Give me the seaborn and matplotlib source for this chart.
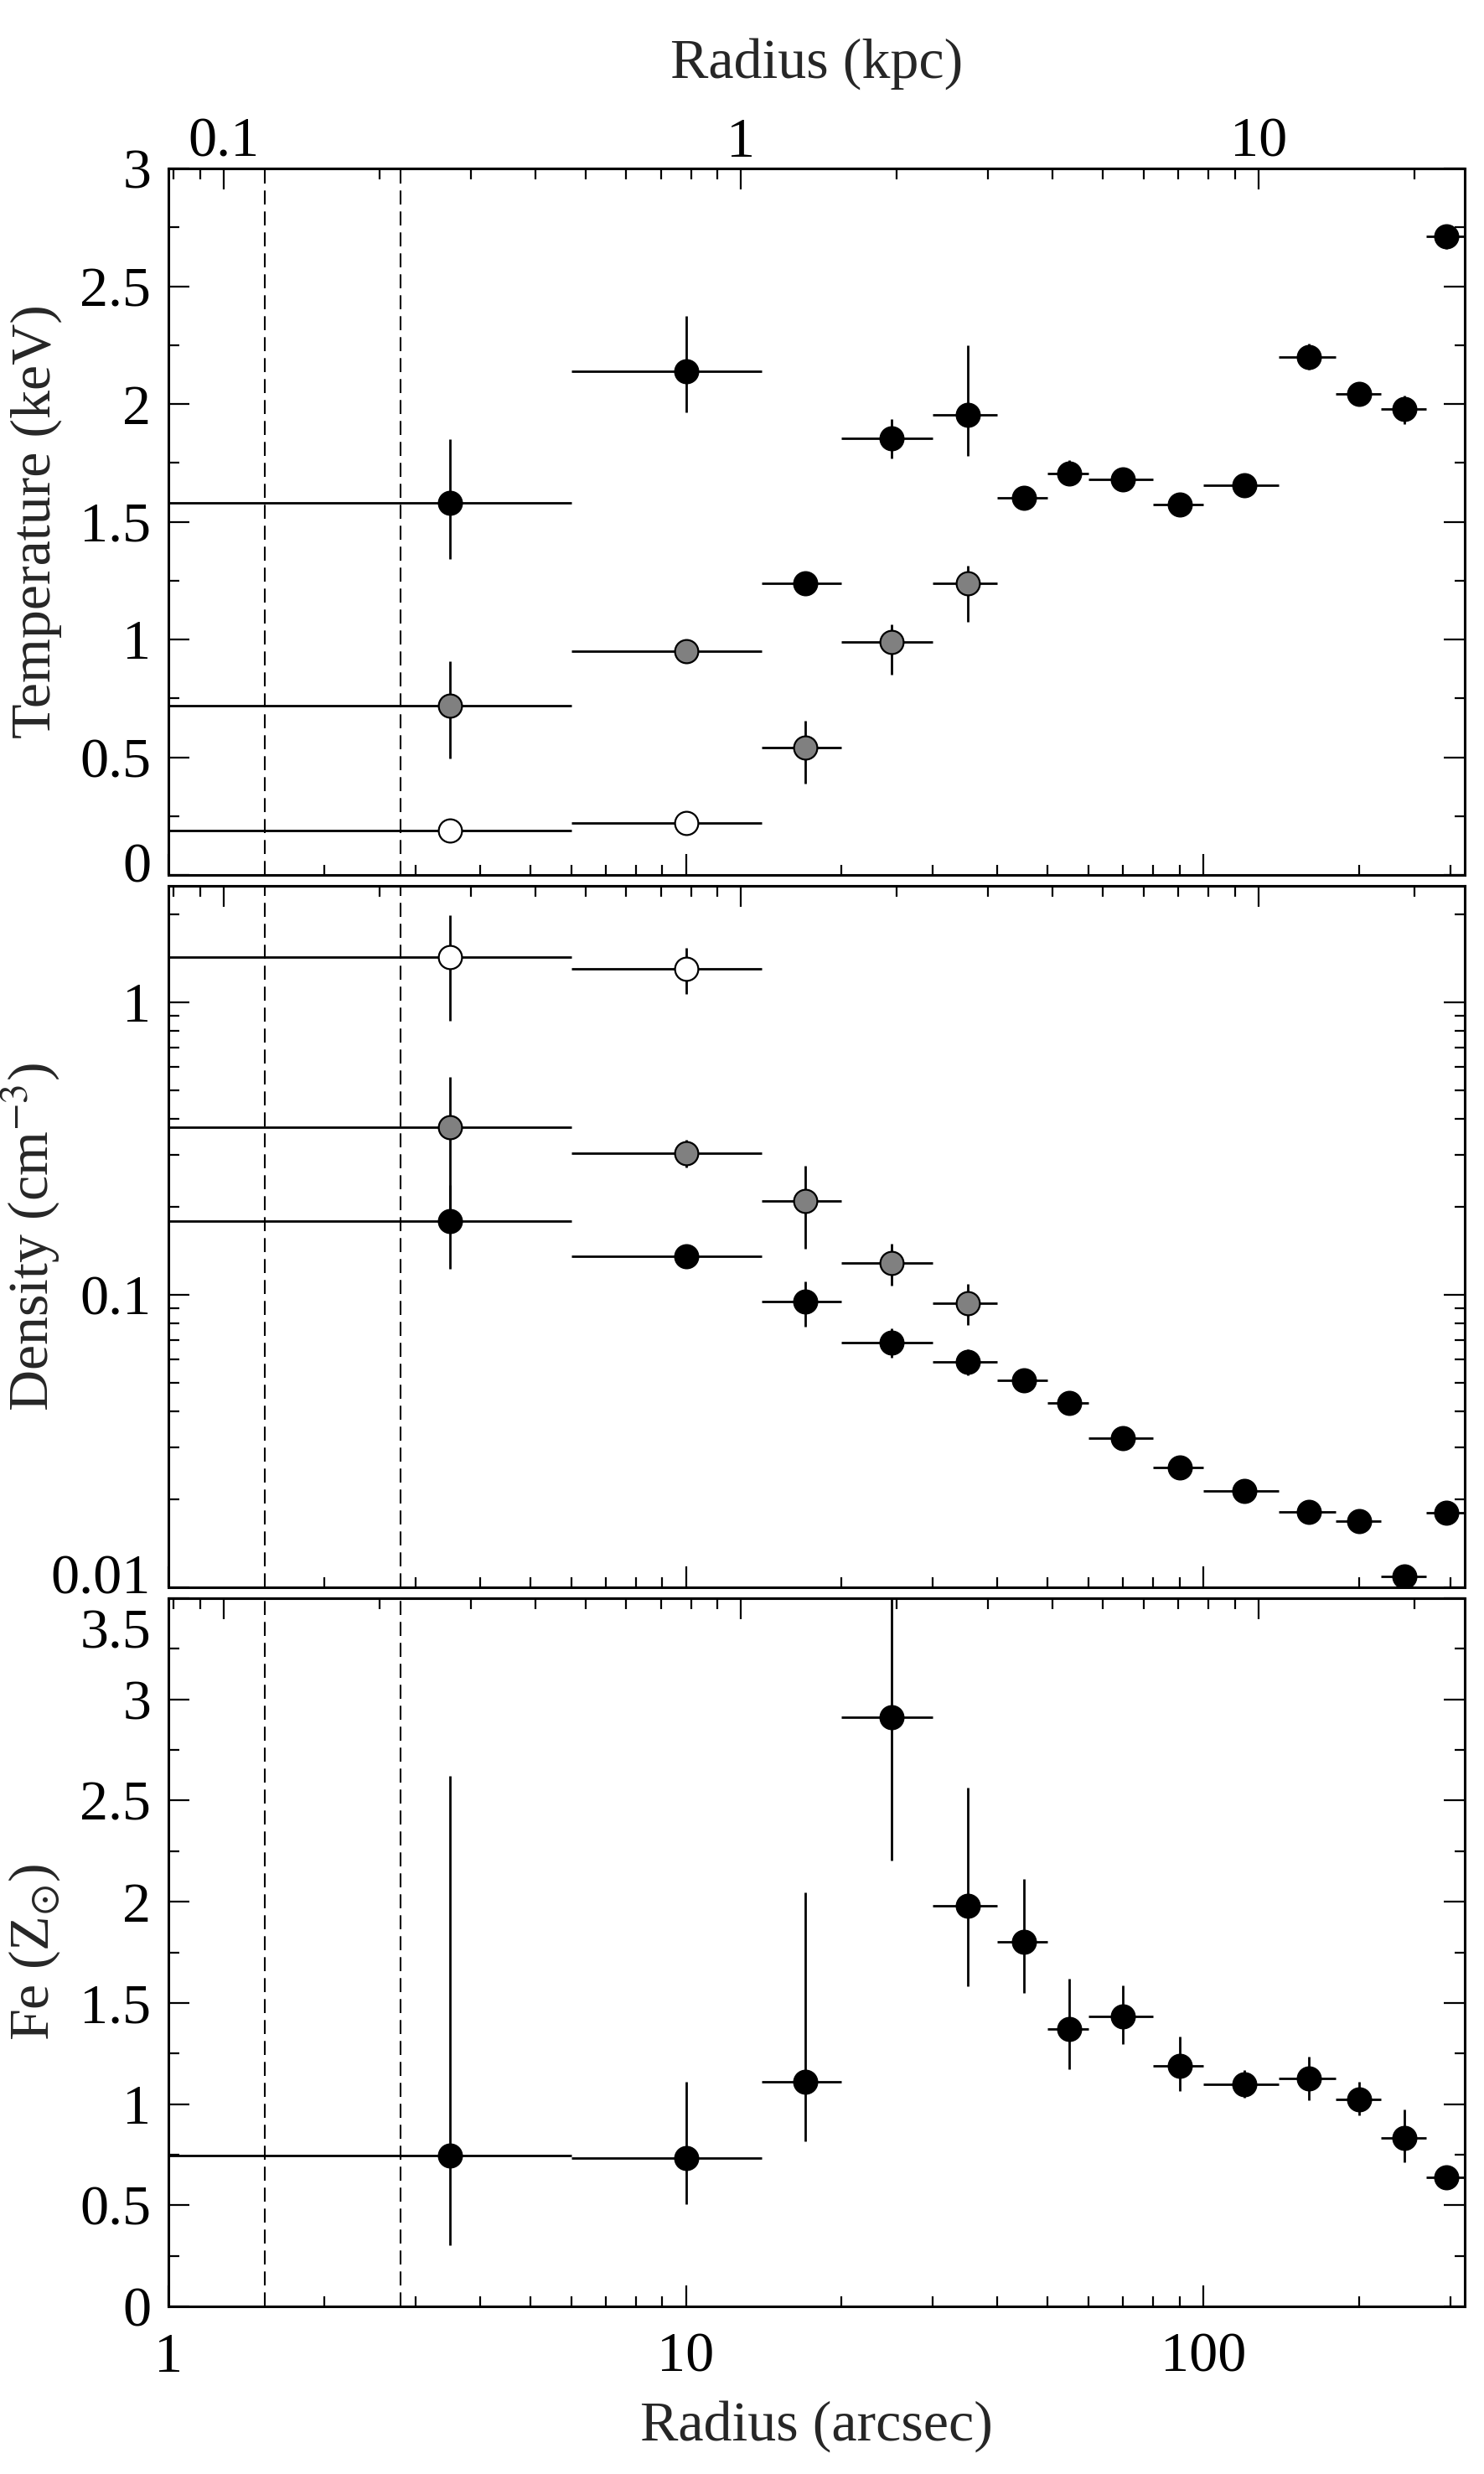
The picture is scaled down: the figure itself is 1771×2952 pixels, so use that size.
import numpy as np
import pandas as pd
import matplotlib
matplotlib.use("Agg")
import matplotlib.pyplot as plt
import matplotlib.ticker as mticker
import matplotlib.transforms as mtrans
import seaborn as sns

# ---------------- data ----------------
r_center = [3.5, 10, 17, 25, 35, 45, 55, 70, 90, 120, 160, 200, 245, 295]
r_lo = [1, 6, 14, 20, 30, 40, 50, 60, 80, 100, 140, 180, 220, 270]
r_hi = [6, 14, 20, 30, 40, 50, 60, 80, 100, 140, 180, 220, 270, 320]

# Temperature (keV), three components
kT_hot = [1.58, 2.14, 1.24, 1.855, 1.955, 1.603, 1.704, 1.68, 1.574, 1.656, 2.2, 2.043, 1.98, 2.71]
kT_hot_lo = [1.34, 1.964, 1.22, 1.77, 1.78, 1.585, 1.67, 1.665, 1.56, 1.64, 2.147, 2.025, 1.915, 2.66]
kT_hot_hi = [1.85, 2.375, 1.26, 1.935, 2.25, 1.62, 1.76, 1.695, 1.59, 1.67, 2.257, 2.06, 2.037, 2.76]

kT_mid = [0.718, 0.949, 0.540, 0.99, 1.237]
kT_mid_lo = [0.496, 0.93, 0.388, 0.852, 1.074]
kT_mid_hi = [0.907, 0.97, 0.655, 1.064, 1.314]

kT_cool = [0.19, 0.222]
kT_cool_lo = [0.18, 0.21]
kT_cool_hi = [0.20, 0.235]

# Density (cm^-3)
ne_hot = [0.179, 0.1355, 0.0946, 0.0688, 0.0591, 0.051, 0.0427, 0.0324, 0.0257, 0.0213, 0.01814, 0.0168, 0.0109, 0.018]
ne_hot_lo = [0.123, 0.131, 0.078, 0.061, 0.053, 0.049, 0.041, 0.031, 0.0247, 0.0205, 0.0175, 0.0162, 0.0105, 0.0174]
ne_hot_hi = [0.238, 0.140, 0.111, 0.077, 0.0652, 0.053, 0.0445, 0.0338, 0.0267, 0.0221, 0.0188, 0.0174, 0.0113, 0.0186]

ne_mid = [0.374, 0.305, 0.209, 0.1285, 0.0935]
ne_mid_lo = [0.19, 0.272, 0.1435, 0.1075, 0.0787]
ne_mid_hi = [0.554, 0.339, 0.276, 0.1496, 0.1087]

ne_cool = [1.43, 1.305]
ne_cool_lo = [0.863, 1.07]
ne_cool_hi = [1.99, 1.535]

# Iron abundance (solar)
fe = [0.744, 0.733, 1.111, 2.912, 1.98, 1.801, 1.372, 1.435, 1.1875, 1.097, 1.125, 1.023, 0.832, 0.639]
fe_lo = [0.304, 0.506, 0.818, 2.202, 1.582, 1.548, 1.173, 1.298, 1.0625, 1.031, 1.02, 0.946, 0.713, 0.61]
fe_hi = [2.62, 1.108, 2.045, 3.6, 2.565, 2.114, 1.619, 1.588, 1.332, 1.168, 1.233, 1.108, 0.974, 0.67]

dashed_r = [1.536, 2.81]
kpc_per_arcsec = 0.0782

# ---------------- style ----------------
sns.set_theme(style="ticks")
plt.rcParams["font.family"] = ["Liberation Serif", "DejaVu Serif"]
plt.rcParams["mathtext.fontset"] = "stix"
plt.rcParams["axes.linewidth"] = 2.2
FS = 49

fig = plt.figure(figsize=(17.71, 29.52), dpi=100)
L, W = 201 / 1771, (1748 - 201) / 1771
H = 2952.0
ax_T = fig.add_axes([L, 1 - 1044 / H, W, (1044 - 201) / H])
ax_n = fig.add_axes([L, 1 - 1894 / H, W, (1894 - 1057) / H])
ax_f = fig.add_axes([L, 1 - 2752 / H, W, (2752 - 1907) / H])

GRAY = "#808080"


def draw_series(ax, xc, y, ylo, yhi, color):
    n = len(y)
    xc = np.asarray(xc[:n], float)
    xl = np.asarray(r_lo[:n], float)
    xh = np.asarray(r_hi[:n], float)
    y = np.asarray(y, float)
    ax.errorbar(xc, y, xerr=[xc - xl, xh - xc],
                yerr=[y - np.asarray(ylo), np.asarray(yhi) - y],
                fmt="none", ecolor="black", elinewidth=2.0, capsize=0, zorder=2)
    df = pd.DataFrame({"r": xc, "v": y})
    sns.scatterplot(data=df, x="r", y="v", ax=ax, color=color, edgecolor="black",
                    s=400, linewidth=1.6, zorder=3, legend=False)


draw_series(ax_T, r_center, kT_hot, kT_hot_lo, kT_hot_hi, "black")
draw_series(ax_T, r_center, kT_mid, kT_mid_lo, kT_mid_hi, GRAY)
draw_series(ax_T, r_center, kT_cool, kT_cool_lo, kT_cool_hi, "white")

draw_series(ax_n, r_center, ne_hot, ne_hot_lo, ne_hot_hi, "black")
draw_series(ax_n, r_center, ne_mid, ne_mid_lo, ne_mid_hi, GRAY)
draw_series(ax_n, r_center, ne_cool, ne_cool_lo, ne_cool_hi, "white")

draw_series(ax_f, r_center, fe, fe_lo, fe_hi, "black")


def fmt_num(v, pos=None):
    return "%g" % v


for ax in (ax_T, ax_n, ax_f):
    ax.set_xscale("log")
    ax.set_xlim(1, 320)
    for xv in dashed_r:
        ax.axvline(xv, color="black", lw=1.5, ls=(0, (8, 4)), zorder=1)
    ax.xaxis.set_major_locator(mticker.LogLocator(base=10))
    ax.xaxis.set_minor_locator(mticker.LogLocator(base=10, subs=np.arange(2, 10)))
    ax.xaxis.set_minor_formatter(mticker.NullFormatter())
    ax.tick_params(axis="both", which="both", direction="in", top=False, right=True,
                   width=1.6, color="black", labelsize=FS, labelcolor="black")
    ax.tick_params(axis="both", which="major", length=18)
    ax.tick_params(axis="both", which="minor", length=9)
    ax.tick_params(axis="y", which="major", pad=15)
    ax.tick_params(axis="x", which="major", pad=22)
    ax.set_xlabel("")
    ax.set_ylabel("")
    for sp in ax.spines.values():
        sp.set_linewidth(2.2)
        sp.set_color("black")
    sec = ax.secondary_xaxis("top", functions=(lambda x: x * kpc_per_arcsec,
                                               lambda x: x / kpc_per_arcsec))
    sec.xaxis.set_major_locator(mticker.LogLocator(base=10))
    sec.xaxis.set_minor_locator(mticker.LogLocator(base=10, subs=np.arange(2, 10)))
    sec.xaxis.set_minor_formatter(mticker.NullFormatter())
    sec.tick_params(axis="x", which="both", direction="in", width=1.6, color="black",
                    labelsize=FS, labelcolor="black", pad=0)
    sec.tick_params(axis="x", which="major", length=18)
    sec.tick_params(axis="x", which="minor", length=9)
    sec.spines["top"].set_linewidth(2.2)
    if ax is ax_T:
        sec.xaxis.set_major_formatter(mticker.FuncFormatter(fmt_num))
        sec.set_xlabel("Radius (kpc)", fontsize=FS, labelpad=34)
    else:
        sec.xaxis.set_major_formatter(mticker.NullFormatter())

for ax in (ax_T, ax_n):
    ax.xaxis.set_major_formatter(mticker.NullFormatter())
ax_f.xaxis.set_major_formatter(mticker.FuncFormatter(fmt_num))
ax_f.set_xlabel("Radius (arcsec)", fontsize=FS, labelpad=15)

# Temperature axis
ax_T.set_ylim(0, 3)
ax_T.yaxis.set_major_locator(mticker.MultipleLocator(0.5))
ax_T.yaxis.set_minor_locator(mticker.MultipleLocator(0.25))
ax_T.yaxis.set_major_formatter(mticker.FuncFormatter(fmt_num))
ax_T.set_ylabel("Temperature (keV)", fontsize=FS)

# Density axis
ax_n.set_yscale("log")
ax_n.set_ylim(0.01, 2.5)
ax_n.yaxis.set_major_locator(mticker.LogLocator(base=10))
ax_n.yaxis.set_minor_locator(mticker.LogLocator(base=10, subs=np.arange(2, 10)))
ax_n.yaxis.set_major_formatter(mticker.FuncFormatter(fmt_num))
ax_n.yaxis.set_minor_formatter(mticker.NullFormatter())
ax_n.set_ylabel(r"Density (cm$^{-3}$)", fontsize=FS)

# Fe axis
ax_f.set_ylim(0, 3.5)
ax_f.yaxis.set_major_locator(mticker.MultipleLocator(0.5))
ax_f.yaxis.set_minor_locator(mticker.MultipleLocator(0.25))
ax_f.yaxis.set_major_formatter(mticker.FuncFormatter(fmt_num))
ax_f.set_ylabel(r"Fe (Z$_{\odot}$)", fontsize=FS)

for ax in (ax_T, ax_n, ax_f):
    ax.yaxis.set_label_coords(-0.082, 0.5)

fig.canvas.draw()


def shift_label(ax, value, dy_px):
    off = mtrans.ScaledTranslation(0, dy_px / fig.dpi, fig.dpi_scale_trans)
    for tick in ax.yaxis.get_major_ticks():
        if np.isclose(tick.get_loc(), value):
            tick.label1.set_transform(tick.label1.get_transform() + off)


shift_label(ax_T, 0.0, 15)
shift_label(ax_n, 0.01, 16)
shift_label(ax_f, 3.5, -36)

fig.savefig("out.png", dpi=100)
